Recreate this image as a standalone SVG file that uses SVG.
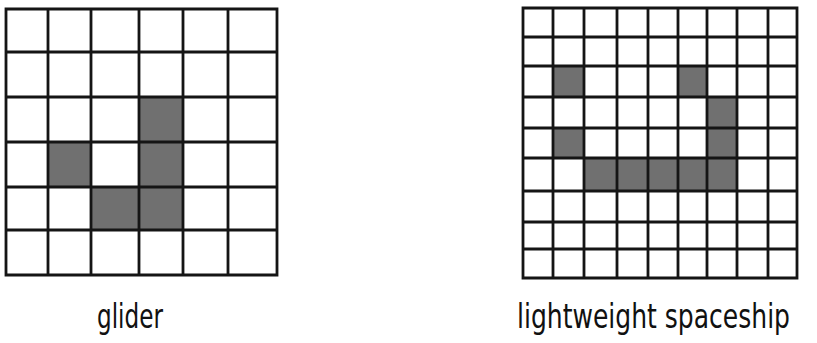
<svg xmlns="http://www.w3.org/2000/svg" width="817" height="343" viewBox="0 0 817 343">
<style>
.cell{fill:#707070}
.grid{stroke:#151515;stroke-width:2.8;fill:none;stroke-linecap:square}
.lbl{font-family:"DejaVu Sans Condensed","Liberation Sans",sans-serif;font-size:26px;fill:#111}
</style>
<rect width="817" height="343" fill="#fff"/>
<g id="glider">
<rect class="cell" x="139" y="97" width="44" height="45"/>
<rect class="cell" x="48" y="142" width="43" height="45"/>
<rect class="cell" x="139" y="142" width="44" height="45"/>
<rect class="cell" x="91" y="187" width="48" height="43"/>
<rect class="cell" x="139" y="187" width="44" height="43"/>
<path class="grid" d="M6 9V275M48 9V275M91 9V275M139 9V275M183 9V275M228 9V275M277 9V275M6 9H277M6 52H277M6 97H277M6 142H277M6 187H277M6 230H277M6 275H277"/>
<text class="lbl" transform="translate(97,328) scale(1,1.28)" x="0" y="0" textLength="66" lengthAdjust="spacingAndGlyphs">glider</text>
</g>
<g id="lightweight-spaceship">
<rect class="cell" x="553" y="66" width="31" height="31"/>
<rect class="cell" x="678" y="66" width="29" height="31"/>
<rect class="cell" x="707" y="97" width="30" height="31"/>
<rect class="cell" x="553" y="128" width="31" height="30"/>
<rect class="cell" x="707" y="128" width="30" height="30"/>
<rect class="cell" x="584" y="158" width="153" height="33"/>
<path class="grid" d="M523 8V278M553 8V278M584 8V278M617 8V278M648 8V278M678 8V278M707 8V278M737 8V278M768 8V278M797 8V278M523 8H797M523 37H797M523 66H797M523 97H797M523 128H797M523 158H797M523 191H797M523 222H797M523 249H797M523 278H797"/>
<text class="lbl" transform="translate(517,328) scale(1,1.28)" x="0" y="0" textLength="273" lengthAdjust="spacingAndGlyphs">lightweight spaceship</text>
</g>
<g id="connectors"/>
</svg>
